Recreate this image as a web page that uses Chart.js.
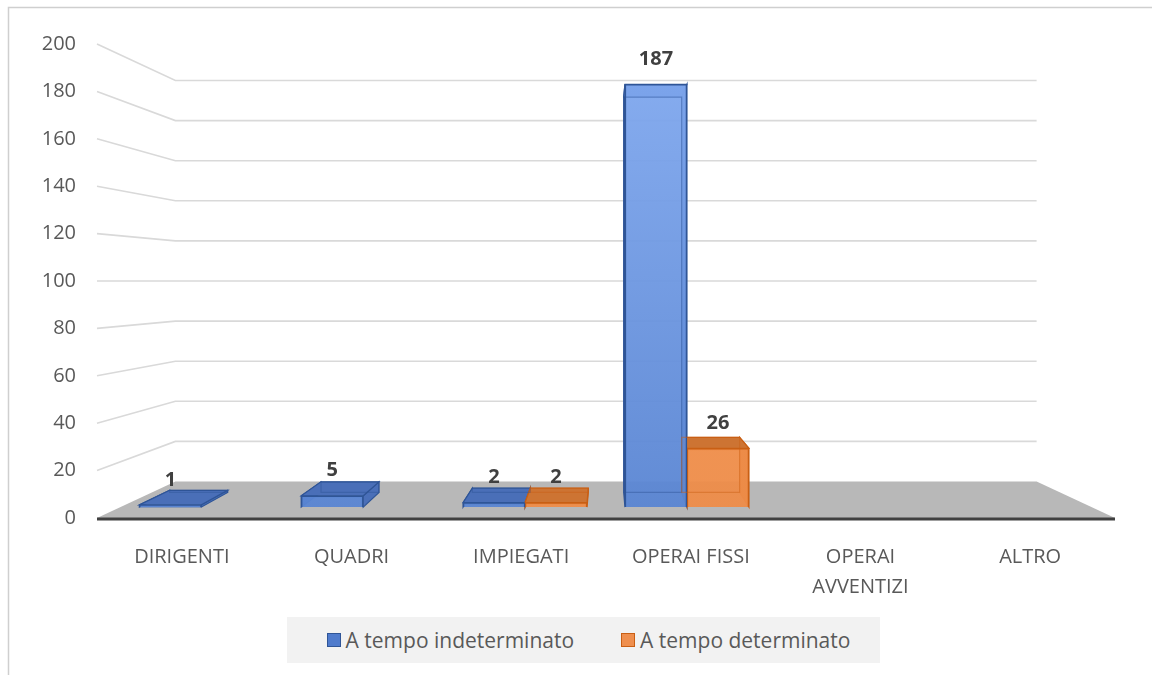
<!DOCTYPE html>
<html>
<head>
<meta charset="utf-8">
<script src="https://cdn.jsdelivr.net/npm/chart.js@4.4.0/dist/chart.umd.min.js"></script>
<style>
  body { margin: 0; background: #fff; }
  #wrap { position: relative; width: 1152px; height: 675px; }
  #legend {
    position: absolute; left: 287px; top: 617px; width: 593px; height: 46px;
    box-sizing: border-box; padding-left: 10px;
    background: #f2f2f2; display: flex; align-items: center; justify-content: center;
    gap: 47px; font-family: 'Open Sans'; font-size: 21px; color: #595959;
  }
  .item { display: flex; align-items: center; }
  .box { width: 12px; height: 12px; margin-right: 5px; border: 1.5px solid; }
</style>
</head>
<body>
<div id="wrap">
  <canvas id="chart" width="1152" height="675"></canvas>
  <div id="legend"></div>
</div>
<script>
const categories = ['DIRIGENTI', 'QUADRI', 'IMPIEGATI', 'OPERAI FISSI', ['OPERAI', 'AVVENTIZI'], 'ALTRO']
const seriesNames = ['A tempo indeterminato', 'A tempo determinato']
const indeterminato = [1, 5, 2, 187, null, null]
const determinato = [null, null, 2, 26, null, null]
const yMin = 0
const yMax = 200
const yStep = 20

// depth of the bar faces and back wall, as a fraction of the front plane
const FRONT = 0.954
const BACK = 0.892
const WALL = 0.846

const colors = [
  {top: 'rgba(130,170,240,0.95)', bottom: 'rgba(88,132,210,0.95)', border: '#2f5597', side: '#4a6fb8', legend: '#4f7bcc'},
  {top: 'rgba(242,146,78,0.95)', bottom: 'rgba(238,140,72,0.95)', border: '#c95f14', side: '#cd7433', legend: '#ef8f4e'}
]

function frontFill(c) {
  return (ctx) => {
    const chart = ctx.chart
    const a = chart.chartArea
    if (!a) return c.bottom
    const g = chart.ctx.createLinearGradient(0, a.top, 0, a.bottom)
    g.addColorStop(0, c.top)
    g.addColorStop(1, c.bottom)
    return g
  }
}

const n = categories.length

const depthPlugin = {
  id: 'depth',
  beforeDraw(chart) {
    const ctx = chart.ctx
    ctx.save()
    ctx.fillStyle = '#fff'
    ctx.fillRect(0, 0, chart.width, chart.height)
    ctx.strokeStyle = '#cfcfcf'
    ctx.lineWidth = 1.5
    ctx.beginPath()
    ctx.moveTo(8.5, chart.height)
    ctx.lineTo(8.5, 7.5)
    ctx.lineTo(chart.width, 7.5)
    ctx.stroke()
    ctx.restore()
  },
  beforeDatasetsDraw(chart) {
    const ctx = chart.ctx
    const {left: L, right: R, top: T, bottom: B} = chart.chartArea
    const vx = (L + R) / 2, vy = (T + B) / 2
    const proj = (x, y, r) => [vx + (x - vx) * r, vy + (y - vy) * r]
    const ys = chart.scales.y
    ctx.save()
    // gridlines: front edge -> back wall
    ctx.strokeStyle = '#d9d9d9'
    ctx.lineWidth = 1.6
    ys.ticks.forEach(t => {
      if (t.value === yMin) return
      const yf = ys.getPixelForValue(t.value)
      const [bl, by] = proj(L, yf, WALL)
      const [br] = proj(R, yf, WALL)
      ctx.beginPath()
      ctx.moveTo(L, yf)
      ctx.lineTo(bl, by)
      ctx.lineTo(br, by)
      ctx.stroke()
    })
    // floor
    const [fl, fy] = proj(L, B, WALL)
    const [fr] = proj(R, B, WALL)
    ctx.fillStyle = '#b8b8b8'
    ctx.beginPath()
    ctx.moveTo(L, B)
    ctx.lineTo(fl, fy)
    ctx.lineTo(fr, fy)
    ctx.lineTo(R, B)
    ctx.closePath()
    ctx.fill()
    ctx.strokeStyle = '#404040'
    ctx.lineWidth = 3
    ctx.beginPath()
    ctx.moveTo(L, B + 1)
    ctx.lineTo(R, B + 1)
    ctx.stroke()

    // side + top faces of the bars
    const k = BACK / FRONT
    chart.data.datasets.forEach((ds, di) => {
      const meta = chart.getDatasetMeta(di)
      meta.data.forEach((el, i) => {
        if (ds.data[i].y == null) return
        const {x, y, base, width} = el.getProps(['x', 'y', 'base', 'width'], true)
        const x0 = x - width / 2, x1 = x + width / 2
        const pb = (px, py) => proj(px, py, k)
        const faces = [
          [[x0, y], [x0, base], pb(x0, base), pb(x0, y)],
          [[x1, y], [x1, base], pb(x1, base), pb(x1, y)],
          [[x0, y], [x1, y], pb(x1, y), pb(x0, y)]
        ]
        ctx.fillStyle = colors[di].side
        ctx.strokeStyle = colors[di].border
        ctx.lineWidth = 1.2
        faces.forEach(f => {
          ctx.beginPath()
          ctx.moveTo(f[0][0], f[0][1])
          for (let j = 1; j < 4; j++) ctx.lineTo(f[j][0], f[j][1])
          ctx.closePath()
          ctx.fill()
          ctx.stroke()
        })
      })
    })
    ctx.restore()
  },
  afterDatasetsDraw(chart) {
    const ctx = chart.ctx
    const {left: L, right: R, top: T, bottom: B} = chart.chartArea
    const vx = (L + R) / 2, vy = (T + B) / 2
    const k = BACK / FRONT
    const pb = (x, y) => [vx + (x - vx) * k, vy + (y - vy) * k]
    ctx.save()
    chart.data.datasets.forEach((ds, di) => {
      const meta = chart.getDatasetMeta(di)
      meta.data.forEach((el, i) => {
        const v = ds.data[i].y
        if (v == null) return
        const {x, y, base, width} = el.getProps(['x', 'y', 'base', 'width'], true)
        const x0 = x - width / 2, x1 = x + width / 2
        const c = [pb(x0, y), pb(x1, y), pb(x1, base), pb(x0, base)]
        // back edges seen through the face
        ctx.strokeStyle = di === 0 ? 'rgba(47,85,151,0.45)' : 'rgba(201,95,20,0.45)'
        ctx.lineWidth = 1.2
        ctx.beginPath()
        ctx.moveTo(c[0][0], c[0][1])
        c.slice(1).forEach(p => ctx.lineTo(p[0], p[1]))
        ctx.closePath()
        ctx.stroke()
        // value label
        ctx.fillStyle = '#404040'
        ctx.font = 'bold 20px "Open Sans"'
        ctx.textAlign = 'center'
        ctx.textBaseline = 'middle'
        ctx.fillText(String(v), x, y - 25)
      })
    })
    ctx.restore()
  }
}

const datasets = [indeterminato, determinato].map((vals, di) => ({
  label: seriesNames[di],
  data: vals.map((v, i) => ({x: i, y: v})),
  xAxisID: 'xb',
  yAxisID: 'yb',
  barThickness: 62,
  backgroundColor: frontFill(colors[di]),
  borderColor: colors[di].border,
  borderWidth: 1.5
}))

const tickFont = {family: 'Open Sans', size: 20}

new Chart(document.getElementById('chart'), {
  type: 'bar',
  data: {labels: categories, datasets: datasets},
  options: {
    responsive: false,
    animation: false,
    layout: {padding: {top: 44, right: 37, bottom: 0, left: 0}},
    plugins: {legend: {display: false}, tooltip: {enabled: false}},
    scales: {
      x: {
        type: 'category',
        grid: {display: false},
        border: {display: false},
        ticks: {color: '#595959', font: {family: 'Open Sans', size: 20, lineHeight: 1.5}, padding: 16, maxRotation: 0, autoSkip: false},
        afterFit(s) { s.height = 157 }
      },
      xb: {
        type: 'linear',
        display: false,
        offset: false,
        min: (n - 1) / 2 - (n / 2) / FRONT,
        max: (n - 1) / 2 + (n / 2) / FRONT
      },
      y: {
        position: 'left',
        min: yMin,
        max: yMax,
        grid: {display: false},
        border: {display: false},
        ticks: {stepSize: yStep, color: '#595959', font: tickFont, padding: 13},
        afterFit(s) { s.width = 97 }
      },
      yb: {
        type: 'linear',
        display: false,
        min: yMin - (yMax / 2) * (1 - FRONT) / FRONT,
        max: yMax / 2 + (yMax / 2) / FRONT
      }
    }
  },
  plugins: [depthPlugin]
})

const legend = document.getElementById('legend')
seriesNames.forEach((name, i) => {
  const item = document.createElement('div')
  item.className = 'item'
  const box = document.createElement('span')
  box.className = 'box'
  box.style.background = colors[i].legend
  box.style.borderColor = colors[i].border
  item.appendChild(box)
  item.appendChild(document.createTextNode(name))
  legend.appendChild(item)
})
</script>
</body>
</html>
